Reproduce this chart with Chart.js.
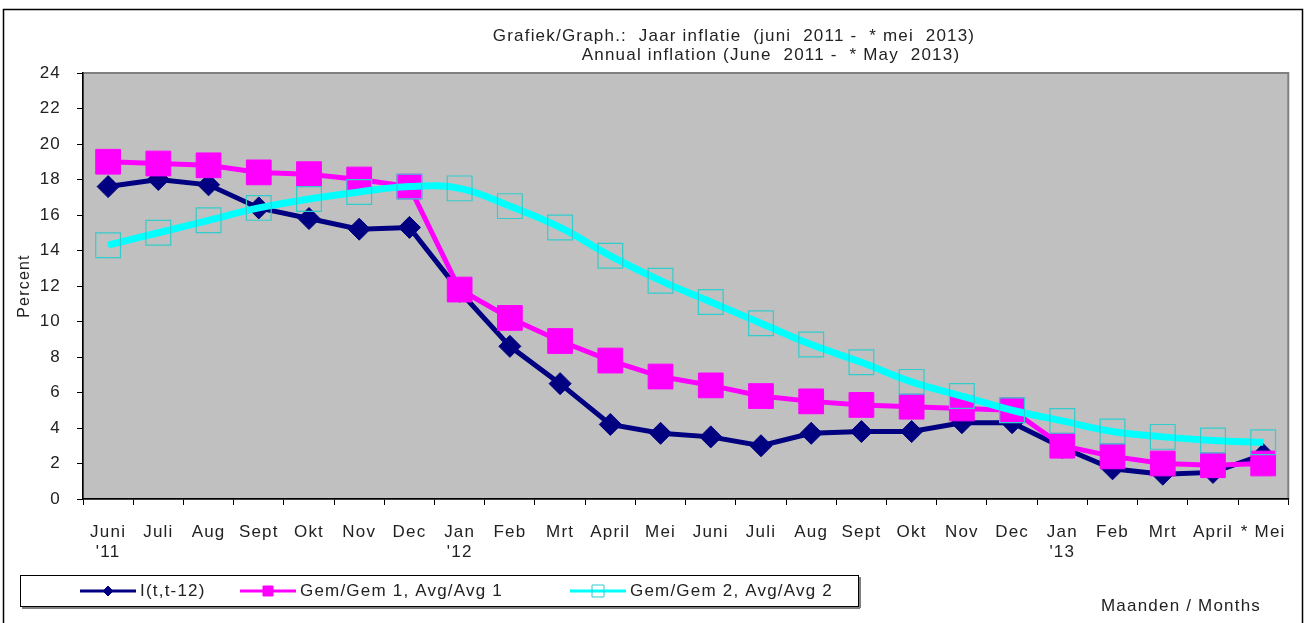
<!DOCTYPE html>
<html>
<head>
<meta charset="utf-8">
<title>Jaar inflatie</title>
<script src="https://cdn.jsdelivr.net/npm/chart.js@4"></script>
<style>
  html, body { margin: 0; padding: 0; background: #fff; }
  canvas { display: block; }
</style>
</head>
<body>
<canvas id="inflationChart" width="1307" height="623"></canvas>
<script>
// Months, June 2011 - May 2013 (multi-line labels carry the year)
const months = [
    ['Juni', "'11"], 'Juli', 'Aug', 'Sept', 'Okt', 'Nov', 'Dec',
    ['Jan', "'12"], 'Feb', 'Mrt', 'April', 'Mei', 'Juni', 'Juli', 'Aug',
    'Sept', 'Okt', 'Nov', 'Dec', ['Jan', "'13"], 'Feb', 'Mrt', 'April', '* Mei'
];

const inflation12 = [17.6, 18.0, 17.7, 16.4, 15.8, 15.2, 15.3, 11.7, 8.6, 6.5, 4.2, 3.7,
    3.5, 3.0, 3.7, 3.8, 3.8, 4.3, 4.3, 2.9, 1.7, 1.4, 1.5, 2.5];
const avg1 = [19.0, 18.9, 18.8, 18.4, 18.3, 18.0, 17.6, 11.8, 10.2, 8.9, 7.8, 6.9,
    6.4, 5.8, 5.5, 5.3, 5.2, 5.1, 5.0, 3.0, 2.4, 2.0, 1.9, 2.0];
const avg2 = [14.3, 15.0, 15.7, 16.4, 16.9, 17.3, 17.6, 17.5, 16.5, 15.3, 13.7, 12.3,
    11.1, 9.9, 8.7, 7.7, 6.6, 5.8, 5.0, 4.4, 3.8, 3.5, 3.3, 3.2];

const seriesNames = ['I(t,t-12)', 'Gem/Gem 1, Avg/Avg 1', 'Gem/Gem 2, Avg/Avg 2'];
const titleLines = ['Grafiek/Graph.:  Jaar inflatie  (juni  2011 -  * mei  2013)',
    'Annual inflation (June  2011 -  * May  2013)'];

const FONT = '"Liberation Sans", Arial, sans-serif';
const TEXT = '#222';
const SPACING = '1.2px';

// the old Excel text is drawn wide, so spread the letters a bit
const letterSpacing = {
    id: 'letterSpacing',
    beforeLayout(chart) { chart.ctx.letterSpacing = SPACING; },
    beforeDraw(chart) { chart.ctx.letterSpacing = SPACING; }
};

// Frame, gray plot area, titles and the boxed legend
const decorations = {
    id: 'decorations',
    beforeDraw(chart) {
        const { ctx, chartArea: a } = chart;
        ctx.save();
        ctx.fillStyle = '#fff';
        ctx.fillRect(0, 0, chart.width, chart.height);
        ctx.strokeStyle = '#000';
        ctx.lineWidth = 1.5;
        ctx.strokeRect(3.5, 9.5, chart.width - 8, chart.height + 10);
        ctx.fillStyle = '#c0c0c0';
        ctx.fillRect(a.left, a.top, a.right - a.left, a.bottom - a.top);
        ctx.strokeStyle = '#808080';
        ctx.lineWidth = 2;
        ctx.strokeRect(a.left, a.top, a.right - a.left, a.bottom - a.top);
        ctx.restore();
    },
    afterDraw(chart) {
        const { ctx } = chart;
        ctx.save();
        ctx.letterSpacing = SPACING;
        ctx.fillStyle = TEXT;
        ctx.font = '17px ' + FONT;
        ctx.textBaseline = 'middle';
        ctx.textAlign = 'center';
        ctx.fillText(titleLines[0], 734, 36);
        ctx.fillText(titleLines[1], 771, 55);
        ctx.fillText('Maanden / Months', 1181, 606);

        // legend box
        ctx.strokeStyle = '#000';
        ctx.lineWidth = 1;
        ctx.strokeRect(20.5, 575.5, 838, 31);
        ctx.fillStyle = '#808080';
        ctx.fillRect(22, 607, 838, 2);
        ctx.fillRect(859, 577, 2, 31);

        const starts = [80, 240, 570];
        chart.data.datasets.forEach((ds, i) => {
            const x = starts[i], y = 591, cx = x + 28;
            ctx.strokeStyle = ds.borderColor;
            ctx.lineWidth = 3;
            ctx.beginPath();
            ctx.moveTo(x, y);
            ctx.lineTo(x + 56, y);
            ctx.stroke();
            ctx.fillStyle = ds.pointBackgroundColor;
            ctx.strokeStyle = ds.pointBorderColor;
            ctx.lineWidth = 1;
            const r = ds.legendRadius;
            ctx.beginPath();
            if (ds.pointStyle === 'rectRot') {
                ctx.moveTo(cx, y - r); ctx.lineTo(cx + r, y);
                ctx.lineTo(cx, y + r); ctx.lineTo(cx - r, y);
                ctx.closePath();
            } else {
                ctx.rect(cx - r, y - r, 2 * r, 2 * r);
            }
            if (ds.pointBackgroundColor !== 'transparent') ctx.fill();
            ctx.stroke();
            ctx.fillStyle = TEXT;
            ctx.textAlign = 'left';
            ctx.fillText(ds.label, x + 60, y);
        });
        ctx.restore();
    }
};

function createInflationChart() {
    const ctx = document.getElementById('inflationChart');

    new Chart(ctx, {
        type: 'line',
        data: {
            labels: months,
            datasets: [{
                label: seriesNames[0],
                data: inflation12,
                borderColor: '#000080',
                backgroundColor: '#000080',
                borderWidth: 5,
                pointStyle: 'rectRot',
                pointRadius: 11,
                pointBackgroundColor: '#000080',
                pointBorderColor: '#000080',
                pointBorderWidth: 1,
                legendRadius: 5,
                tension: 0,
                order: 3
            }, {
                label: seriesNames[1],
                data: avg1,
                borderColor: '#ff00ff',
                backgroundColor: '#ff00ff',
                borderWidth: 5,
                pointStyle: 'rect',
                pointRadius: 17.5,
                pointBackgroundColor: '#ff00ff',
                pointBorderColor: '#ff00ff',
                pointBorderWidth: 1,
                legendRadius: 5,
                tension: 0,
                order: 2
            }, {
                label: seriesNames[2],
                data: avg2,
                borderColor: '#00ffff',
                backgroundColor: '#00ffff',
                borderWidth: 7,
                pointStyle: 'rect',
                pointRadius: 17.5,
                pointBackgroundColor: 'transparent',
                pointBorderColor: '#33cccc',
                pointBorderWidth: 1.2,
                legendRadius: 6,
                tension: 0.4,
                order: 1
            }]
        },
        options: {
            responsive: false,
            animation: false,
            events: [],
            layout: { padding: { left: 15, right: 17, top: 73, bottom: 64 } },
            plugins: {
                legend: { display: false },
                title: { display: false },
                tooltip: { enabled: false }
            },
            scales: {
                x: {
                    offset: true,
                    grid: {
                        offset: true,
                        drawOnChartArea: false,
                        color: '#000',
                        tickLength: 6
                    },
                    border: { color: '#000', width: 1.5 },
                    ticks: {
                        color: TEXT,
                        font: { family: FONT, size: 17, lineHeight: 1.15 },
                        padding: 18,
                        maxRotation: 0,
                        autoSkip: false
                    },
                    afterFit(scale) { scale.height = 60; }
                },
                y: {
                    min: 0,
                    max: 24,
                    ticks: {
                        stepSize: 2,
                        color: TEXT,
                        font: { family: FONT, size: 17 },
                        padding: 16
                    },
                    grid: {
                        drawOnChartArea: false,
                        color: '#000',
                        tickLength: 6
                    },
                    border: { color: '#000', width: 1.5 },
                    title: {
                        display: true,
                        text: 'Percent',
                        color: TEXT,
                        font: { family: FONT, size: 16 },
                        padding: 0
                    },
                    afterFit(scale) { scale.width = 68; }
                }
            }
        },
        plugins: [letterSpacing, decorations]
    });
}

document.addEventListener('DOMContentLoaded', createInflationChart);
</script>
</body>
</html>
